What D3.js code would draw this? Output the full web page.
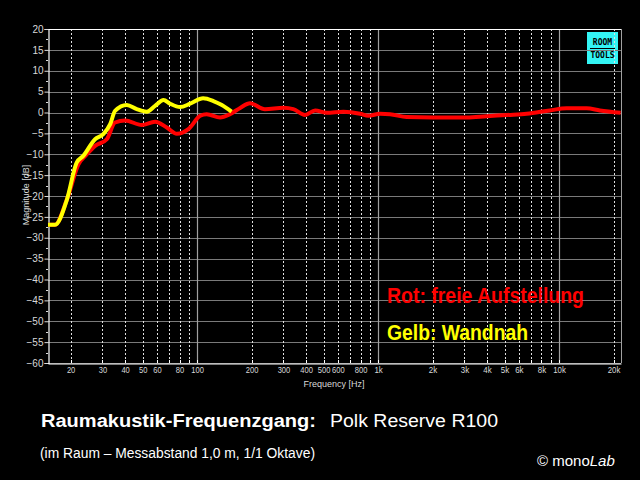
<!DOCTYPE html>
<html><head><meta charset="utf-8">
<script src="https://cdn.jsdelivr.net/npm/d3@7"></script>
<style>html,body{margin:0;padding:0;background:#000;}svg{display:block;}</style>
</head><body>
<svg id="c" width="640" height="480"></svg>
<script>
// ---- data ----
const yellowFreq = [15, 16.4, 19.1, 21.6, 23.5, 27.3, 30.3, 33.1, 35.2, 40.9, 46.4, 52.7, 58.6, 65.2, 71, 80.5, 91.5, 108, 123, 137, 155];
const yellowDb   = [-26.9, -26.9, -20.8, -12.0, -10.4, -6.4, -5.2, -2.8, 0.4, 1.8, 0.8, 0.2, 1.6, 3.0, 2.1, 1.3, 2.1, 3.4, 2.75, 1.8, 0.2];
const redFreq = [15, 16.4, 19.1, 22.1, 24.6, 27.3, 31.7, 35.2, 40, 49.5, 58.6, 68, 77.3, 89.5, 104, 113, 134, 152, 173, 196, 237, 300, 340, 395, 449, 521, 643, 796, 884, 1026, 1165, 1440, 2020, 3090, 3980, 5140, 6630, 8900, 11000, 14200, 16800, 21900];
const redDb   = [-26.9, -26.9, -20.8, -12.4, -10.0, -8.0, -6.4, -2.4, -1.9, -3.0, -2.2, -3.6, -5.1, -4.0, -0.8, -0.4, -1.2, -0.4, 1.1, 2.2, 0.8, 1.15, 0.8, -0.6, 0.5, -0.05, 0.2, -0.3, -0.8, -0.3, -0.4, -1.1, -1.2, -1.2, -0.9, -0.6, -0.3, 0.5, 1.0, 1.0, 0.5, -0.05];
const yTicks = [20,15,10,5,0,-5,-10,-15,-20,-25,-30,-35,-40,-45,-50,-55,-60];
const xTickVals = [20,30,40,50,60,80,100,200,300,400,500,600,800,1000,2000,3000,4000,5000,6000,8000,10000,20000];
const xTickLabels = ["20","30","40","50","60","80","100","200","300","400","500","600","800","1k","2k","3k","4k","5k","6k","8k","10k","20k"];
const dashedGrid = [20,30,40,50,60,70,80,90,200,300,400,500,600,700,800,900,2000,3000,4000,5000,6000,7000,8000,9000,20000];
const decadeGrid = [100,1000,10000];

const svg = d3.select("#c");
const L = 48, R = 621, T = 29, B = 363;
const x = d3.scaleLog().domain([15, 22000]).range([L, R]);
const y = d3.scaleLinear().domain([-60, 20]).range([B, T]);
const sans = "Liberation Sans, Arial, sans-serif";

svg.append("rect").attr("width",640).attr("height",480).attr("fill","#000");

// logo (under grid)
const lg = svg.append("g");
lg.append("rect").attr("x",587).attr("y",32).attr("width",31).attr("height",32).attr("fill","#33f5f5");
lg.append("text").attr("x",602.5).attr("y",45).attr("text-anchor","middle").attr("font-family","DejaVu Sans Mono, monospace").attr("font-weight","bold").attr("font-size",8).attr("fill","#000").text("ROOM");
lg.append("line").attr("x1",590).attr("x2",615).attr("y1",48.5).attr("y2",48.5).attr("stroke","#000").attr("stroke-width",1);
lg.append("text").attr("x",602.5).attr("y",58).attr("text-anchor","middle").attr("font-family","DejaVu Sans Mono, monospace").attr("font-weight","bold").attr("font-size",8).attr("fill","#000").text("TOOLS");

// horizontal grid
svg.append("g").selectAll("line").data(yTicks).join("line")
  .attr("x1",L).attr("x2",R).attr("y1",d=>Math.round(y(d))+0.5).attr("y2",d=>Math.round(y(d))+0.5)
  .attr("stroke","#7a7a7a").attr("stroke-width",1);
// vertical dashed grid
svg.append("g").selectAll("line").data(dashedGrid).join("line")
  .attr("x1",d=>Math.round(x(d))+0.5).attr("x2",d=>Math.round(x(d))+0.5).attr("y1",T).attr("y2",B)
  .attr("stroke","#e0e0e0").attr("stroke-width",1).attr("stroke-dasharray","2,2");
svg.append("g").selectAll("line").data(decadeGrid).join("line")
  .attr("x1",d=>Math.round(x(d))+0.5).attr("x2",d=>Math.round(x(d))+0.5).attr("y1",T).attr("y2",B)
  .attr("stroke","#a0a0a0").attr("stroke-width",1.2);

// frame
svg.append("line").attr("x1",R+0.5).attr("x2",R+0.5).attr("y1",T).attr("y2",B).attr("stroke","#a0a0a0");
svg.append("line").attr("x1",L).attr("x2",R).attr("y1",T+0.5).attr("y2",T+0.5).attr("stroke","#ffffff");

// axes
const yAxis = d3.axisLeft(y).tickValues(yTicks).tickSize(4).tickPadding(1);
const ya = svg.append("g").attr("transform",`translate(${L+0.5},0)`).call(yAxis);
const xAxis = d3.axisBottom(x).tickValues(xTickVals).tickFormat((d,i)=>xTickLabels[i]).tickSize(0).tickPadding(3);
const xa = svg.append("g").attr("transform",`translate(0,${B+0.5})`).call(xAxis);
[ya,xa].forEach(a=>{
  a.select(".domain").attr("stroke","#fff").attr("stroke-width",1.2);
  a.selectAll(".tick line").attr("stroke","#ddd");
  a.selectAll("text").attr("fill","#d8d8d8").attr("font-family",sans).attr("font-size",10);
});
xa.selectAll(".tick text").attr("font-size",9.5).attr("textLength",function(){return this.textContent.length*4.2;})
  .attr("lengthAdjust","spacingAndGlyphs");
// minor y ticks
svg.append("g").selectAll("line").data(d3.range(-57.5,20,5)).join("line")
  .attr("x1",L-2).attr("x2",L).attr("y1",d=>Math.round(y(d))+0.5).attr("y2",d=>Math.round(y(d))+0.5).attr("stroke","#ddd");
// small x ticks upward
svg.append("g").selectAll("line").data(dashedGrid.concat(decadeGrid)).join("line")
  .attr("x1",d=>Math.round(x(d))+0.5).attr("x2",d=>Math.round(x(d))+0.5).attr("y1",B-3).attr("y2",B).attr("stroke","#fff");

svg.append("text").attr("x",334).attr("y",387).attr("text-anchor","middle").attr("fill","#d8d8d8")
  .attr("font-family",sans).attr("font-size",9).text("Frequency [Hz]");
svg.append("text").attr("transform","translate(29,195) rotate(-90)").attr("text-anchor","middle").attr("fill","#d8d8d8")
  .attr("font-family",sans).attr("font-size",9).text("Magnitude [dB]");

// curves
const line = d3.line().x(d=>x(d[0])).y(d=>y(d[1])).curve(d3.curveMonotoneX);
svg.append("path").datum(redFreq.map((f,i)=>[f,redDb[i]])).attr("d",line)
  .attr("fill","none").attr("stroke","#ff0000").attr("stroke-width",4).attr("stroke-linejoin","round");
svg.append("path").datum(yellowFreq.map((f,i)=>[f,yellowDb[i]])).attr("d",line)
  .attr("fill","none").attr("stroke","#ffff00").attr("stroke-width",4).attr("stroke-linejoin","round");

// legend text
svg.append("text").attr("x",387).attr("y",303).attr("fill","#ff0000").attr("font-weight","bold")
  .attr("font-family",sans).attr("font-size",22)
  .attr("textLength",197).attr("lengthAdjust","spacingAndGlyphs").text("Rot: freie Aufstellung");
svg.append("text").attr("x",387).attr("y",340).attr("fill","#ffff00").attr("font-weight","bold")
  .attr("font-family",sans).attr("font-size",22)
  .attr("textLength",141).attr("lengthAdjust","spacingAndGlyphs").text("Gelb: Wandnah");

// titles
svg.append("text").attr("x",41).attr("y",427).attr("fill","#fff").attr("font-weight","bold")
  .attr("font-family",sans).attr("font-size",18)
  .attr("textLength",275).attr("lengthAdjust","spacingAndGlyphs").text("Raumakustik-Frequenzgang:");
svg.append("text").attr("x",330).attr("y",427).attr("fill","#fff")
  .attr("font-family",sans).attr("font-size",18)
  .attr("textLength",168).attr("lengthAdjust","spacingAndGlyphs").text("Polk Reserve R100");
svg.append("text").attr("x",40).attr("y",458).attr("fill","#fff")
  .attr("font-family",sans).attr("font-size",14)
  .attr("textLength",275).attr("lengthAdjust","spacingAndGlyphs").text("(im Raum – Messabstand 1,0 m, 1/1 Oktave)");
const ml = svg.append("text").attr("x",537).attr("y",466).attr("fill","#fff")
  .attr("font-family",sans).attr("font-size",15);
ml.append("tspan").text("© mono");
ml.append("tspan").attr("font-style","italic").text("Lab");
</script>
</body></html>
